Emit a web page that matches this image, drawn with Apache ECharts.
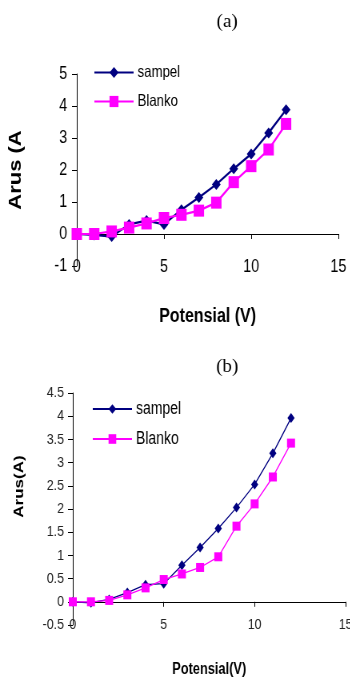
<!DOCTYPE html>
<html>
<head>
<meta charset="utf-8">
<script src="https://cdn.jsdelivr.net/npm/echarts@6/dist/echarts.min.js"></script>
<style>
  html, body { margin: 0; padding: 0; background: #fff; overflow: hidden; width: 350px; height: 678px; }
  /* gambar asli terkompres horizontal (~0.8), jadi chart digambar lebih lebar lalu dipersempit */
  .echarts_a, .echarts_b {
    position: absolute; left: 0; width: 437.5px;
    transform: scaleX(0.8); transform-origin: 0 0;
  }
  .echarts_a { top: 0; height: 330px; }
  .echarts_b { top: 330px; height: 348px; }
</style>
</head>
<body>
<div class="echarts_a"></div>
<div class="echarts_b"></div>
<script>
// tegangan (V)
var potensial = [0, 1, 2, 3, 4, 5, 6, 7, 8, 9, 10, 11, 12];

// grafik (a)
var sampelA = [0, -0.03, -0.08, 0.3, 0.42, 0.3, 0.76, 1.14, 1.55, 2.04, 2.5, 3.16, 3.88];
var blankoA = [0, 0, 0.08, 0.2, 0.33, 0.5, 0.6, 0.73, 0.98, 1.62, 2.12, 2.64, 3.44];

// grafik (b)
var sampelB = [0, -0.02, 0.05, 0.2, 0.37, 0.39, 0.79, 1.17, 1.58, 2.03, 2.53, 3.2, 3.96];
var blankoB = [0, 0, 0.03, 0.15, 0.3, 0.48, 0.6, 0.74, 0.97, 1.63, 2.11, 2.69, 3.42];

var FONT = '"Liberation Sans", Arial, sans-serif';
var SERIF = '"Liberation Serif", "Times New Roman", serif';

function pairs(ys) {
  return potensial.map(function (x, i) { return [x, ys[i]]; });
}

// label (a)/(b) tidak ikut terkompres -> scaleX balik 1.25
function caption(text, x, y) {
  return {
    type: 'text', x: x, y: y, scaleX: 1.25,
    style: { text: text, fontFamily: SERIF, fontSize: 19, fill: '#000', align: 'center', verticalAlign: 'middle' }
  };
}

// 1. grafik (a)
var echarts_a = echarts.init(document.querySelector('.echarts_a'));
var optionA = {
  animation: false,
  backgroundColor: '#fff',
  graphic: [caption('(a)', 284, 22)],
  legend: {
    orient: 'vertical', left: 112, top: 59,
    itemWidth: 49, itemHeight: 14, itemGap: 12,
    textStyle: { fontFamily: FONT, fontSize: 16.5, lineHeight: 16, color: '#000' },
    data: ['sampel', 'Blanko']
  },
  grid: { left: 96, right: 15, top: 74, bottom: 64, outerBoundsMode: 'none' },
  xAxis: {
    type: 'value', min: 0, max: 15, interval: 5,
    name: 'Potensial (V)', nameLocation: 'middle', nameGap: 40,
    nameTextStyle: { fontFamily: FONT, fontWeight: 'bold', fontSize: 20, color: '#000' },
    axisLine: { onZero: true, lineStyle: { color: '#000', width: 1 } },
    axisTick: { length: 5, lineStyle: { color: '#000' } },
    axisLabel: { margin: -8, fontFamily: FONT, fontSize: 18, color: '#000' },
    splitLine: { show: false }
  },
  yAxis: {
    type: 'value', min: -1, max: 5, interval: 1,
    name: 'Arus (A', nameLocation: 'middle', nameGap: 65,
    nameTextStyle: { fontFamily: FONT, fontWeight: 'bold', fontSize: 22, color: '#000' },
    axisLine: { show: true, lineStyle: { color: '#000', width: 1 } },
    axisTick: { show: true, length: 6, lineStyle: { color: '#000' } },
    axisLabel: { margin: 12, fontFamily: FONT, fontSize: 18, color: '#000' },
    splitLine: { show: false }
  },
  series: [
    {
      name: 'sampel', type: 'line', data: pairs(sampelA),
      symbol: 'diamond', symbolSize: [11, 11],
      lineStyle: { color: '#000080', width: 2.2 },
      itemStyle: { color: '#000080' }
    },
    {
      name: 'Blanko', type: 'line', data: pairs(blankoA),
      symbol: 'rect', symbolSize: [13, 12],
      lineStyle: { color: '#ff00ff', width: 2.2 },
      itemStyle: { color: '#ff00ff' }
    }
  ]
};
echarts_a.setOption(optionA);

// 2. grafik (b)
var echarts_b = echarts.init(document.querySelector('.echarts_b'));
var optionB = {
  animation: false,
  backgroundColor: '#fff',
  graphic: [caption('(b)', 284, 37)],
  legend: {
    orient: 'vertical', left: 110, top: 65,
    itemWidth: 49, itemHeight: 12, itemGap: 12,
    textStyle: { fontFamily: FONT, fontSize: 17.5, lineHeight: 16, color: '#000' },
    data: ['sampel', 'Blanko']
  },
  grid: { left: 91, right: 6, top: 63, bottom: 53, outerBoundsMode: 'none' },
  xAxis: {
    type: 'value', min: 0, max: 15, interval: 5,
    name: 'Potensial(V)', nameLocation: 'middle', nameGap: 37,
    nameTextStyle: { fontFamily: FONT, fontWeight: 'bold', fontSize: 16, color: '#000' },
    axisLine: { onZero: true, lineStyle: { color: '#000', width: 1 } },
    axisTick: { length: 5, lineStyle: { color: '#000' } },
    axisLabel: { margin: -8, fontFamily: FONT, fontSize: 15.5, color: '#222' },
    splitLine: { show: false }
  },
  yAxis: {
    type: 'value', min: -0.5, max: 4.5, interval: 0.5,
    name: 'Arus(A)', nameLocation: 'middle', nameGap: 58,
    nameTextStyle: { fontFamily: FONT, fontWeight: 'bold', fontSize: 17, color: '#000', padding: [0, 0, 0, 45] },
    axisLine: { show: true, lineStyle: { color: '#000', width: 1 } },
    axisTick: { show: true, length: 6, lineStyle: { color: '#000' } },
    axisLabel: { margin: 11, fontFamily: FONT, fontSize: 15.5, color: '#222' },
    splitLine: { show: false }
  },
  series: [
    {
      name: 'sampel', type: 'line', data: pairs(sampelB),
      symbol: 'diamond', symbolSize: [9, 10],
      lineStyle: { color: '#000080', width: 1.3 },
      itemStyle: { color: '#000080' }
    },
    {
      name: 'Blanko', type: 'line', data: pairs(blankoB),
      symbol: 'rect', symbolSize: [10, 9],
      lineStyle: { color: '#ff00ff', width: 1.3 },
      itemStyle: { color: '#ff00ff' }
    }
  ]
};
echarts_b.setOption(optionB);
</script>
</body>
</html>
